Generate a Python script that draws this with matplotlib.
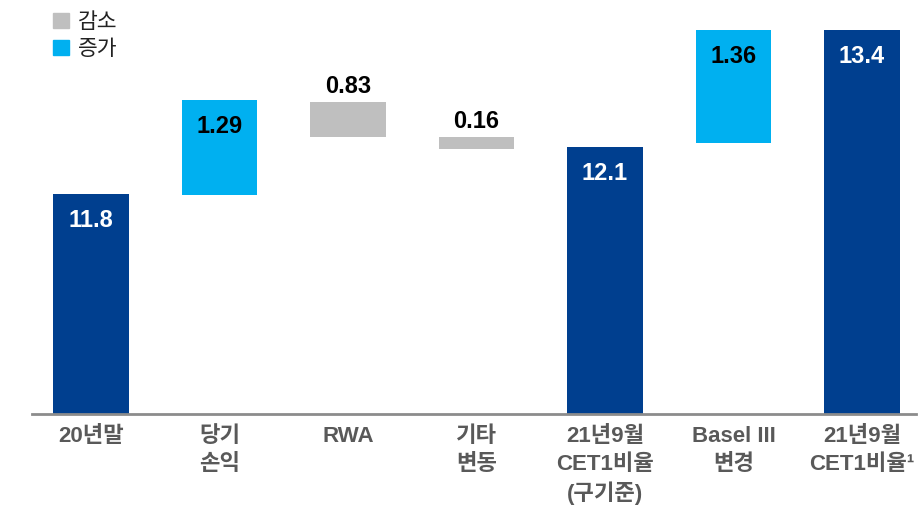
import numpy as np
import matplotlib
matplotlib.use('Agg')
import matplotlib.pyplot as plt
from matplotlib.patches import Patch

plt.rcParams['font.family'] = ['Liberation Sans', 'Noto Sans CJK KR', 'DejaVu Sans']

# 카테고리 / 표시값
categories = ['20년말', '당기\n손익', 'RWA', '기타\n변동', '21년9월\nCET1비율\n(구기준)', 'Basel III\n변경', '21년9월\nCET1비율¹']
value_labels = ['11.8', '1.29', '0.83', '0.16', '12.1', '1.36', '13.4']
kinds = ['total', 'up', 'down', 'down', 'total', 'up', 'total']
# 그림에서 읽은 막대 위치 (도식적 눈금)
bar_bottom = [0, 21.9, 27.7, 26.5, 0, 27.1, 0]
bar_top = [22.0, 31.4, 31.2, 27.7, 26.7, 38.4, 38.4]

colors = {'total': '#003F8F', 'up': '#00B0F0', 'down': '#BFBFBF'}

fig = plt.figure(figsize=(9.2, 5.08), dpi=100)
ax = fig.add_axes([32 / 920, 1 - 414 / 508, 884 / 920, 414 / 508])

x = np.arange(len(categories))
bottom = np.array(bar_bottom)
height = np.array(bar_top) - bottom
ax.bar(x, height, bottom=bottom, width=0.59, color=[colors[k] for k in kinds], zorder=2)

for i in range(len(x)):
    k = kinds[i]
    if k == 'down':
        ax.annotate(value_labels[i], (x[i], bar_top[i]), xytext=(0, 3), textcoords='offset points',
                    ha='center', va='bottom', fontsize=17, fontweight='bold', color='black')
    else:
        c = 'white' if k == 'total' else 'black'
        ax.annotate(value_labels[i], (x[i], bar_top[i]), xytext=(0, -19), textcoords='offset points',
                    ha='center', va='center', fontsize=17, fontweight='bold', color=c)

ax.set_xlim(-0.46, 6.42)
ax.set_ylim(0, 41.4)
ax.set_xticks(x)
ax.set_xticklabels(categories, fontsize=16, fontweight='bold', color='#595959', linespacing=1.38)
ax.tick_params(axis='x', length=0, pad=9)
ax.set_yticks([])
for s in ['top', 'left', 'right']:
    ax.spines[s].set_visible(False)
ax.spines['bottom'].set_color('#8C8C8C')
ax.spines['bottom'].set_linewidth(2)

handles = [Patch(color=colors['down'], label='감소'), Patch(color=colors['up'], label='증가')]
leg = fig.legend(handles=handles, loc='upper left', bbox_to_anchor=(38 / 920, 1 + 3 / 508), frameon=False,
                 fontsize=15.5, handlelength=0.75, handleheight=0.75, handletextpad=0.4, labelspacing=0.28,
                 borderpad=0.2)
for t in leg.get_texts():
    t.set_color('#222222')

fig.savefig('out.png', dpi=100)
